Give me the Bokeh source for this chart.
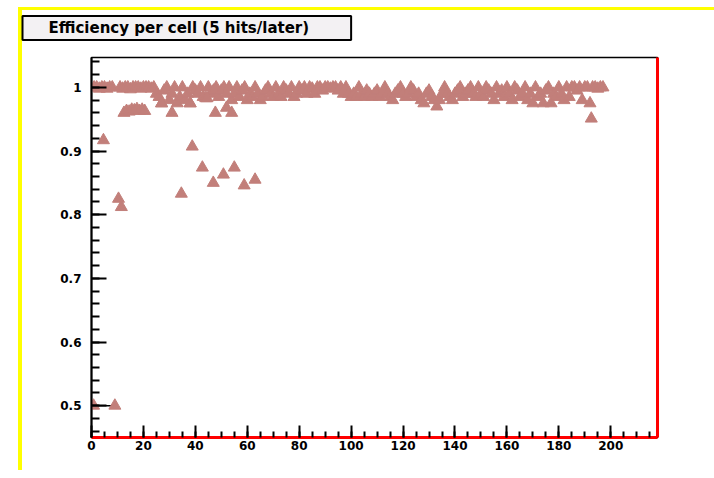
from bokeh.plotting import figure
from bokeh.models import Range1d, LinearAxis, FixedTicker
from bokeh.embed import file_html
from bokeh.resources import INLINE

title_text = "Efficiency per cell (5 hits/later)"

# main band: cell number and efficiency
cells_main = [1, 2, 3, 4, 5, 6, 7, 8] + list(range(11, 198))
eff_main = (
    [1.0, 1.0, 0.998, 1.0, 1.0, 0.998, 1.0, 1.0]
    + [1.0, 0.998, 1.0, 1.0, 0.997, 1.0, 1.0, 1.0, 0.998, 1.0]
    + [1.0, 1.0, 0.998, 1.0, 0.99, 0.985, 0.975, 0.995, 1.0, 0.98]
    + [0.99, 1.0, 0.975, 0.985, 1.0, 0.98, 0.99, 0.975, 1.0, 0.995]
    + [0.99, 1.0, 0.985, 0.983, 1.0, 0.99, 0.995, 1.0, 0.985, 0.995]
    + [1.0, 0.99, 1.0, 0.98, 0.99, 1.0, 0.985, 0.995, 1.0, 0.98]
    + [0.99, 0.985, 1.0, 0.99, 0.98, 0.985, 0.995, 1.0, 0.99, 0.985]
    + [1.0, 0.99, 0.985, 1.0, 0.995, 0.99, 1.0, 0.985, 0.99, 1.0]
    + [0.995, 1.0, 0.99, 1.0, 0.998, 0.99, 1.0, 1.0, 0.995, 1.0]
    + [1.0, 0.998, 1.0, 1.0, 0.995, 1.0, 0.99, 1.0, 0.99, 0.985]
    + [0.99, 0.985, 1.0, 0.99, 0.985, 0.995, 0.99, 0.985, 0.99, 0.995]
    + [0.985, 0.99, 1.0, 0.99, 0.985, 0.98, 0.99, 0.995, 1.0, 0.99]
    + [0.985, 0.99, 1.0, 0.995, 0.985, 0.99, 0.98, 0.975, 0.99, 0.995]
    + [0.985, 0.98, 0.97, 0.98, 0.99, 1.0, 0.99, 0.985, 0.98, 0.99]
    + [0.995, 1.0, 0.985, 0.99, 0.995, 1.0, 0.99, 0.985, 1.0, 0.99]
    + [0.985, 1.0, 0.995, 0.99, 0.98, 1.0, 0.99, 0.995, 0.985, 1.0]
    + [0.99, 0.98, 1.0, 0.995, 0.985, 0.99, 1.0, 0.98, 0.99, 0.975]
    + [1.0, 0.985, 0.99, 0.975, 0.995, 1.0, 0.975, 0.99, 0.985, 1.0]
    + [0.99, 0.98, 1.0, 0.985, 1.0, 1.0, 0.995, 1.0, 0.98, 1.0]
    + [1.0, 0.975, 1.0, 1.0, 0.998, 1.0, 1.0]
)

# second-tier and low-efficiency cells
cells_low = [0.8, 9.0, 4.6, 10.4, 11.5, 34.6, 38.8, 42.7, 46.9, 50.8, 55.0, 58.8, 63.0, 192.5,
             12.5, 13.5, 14.5, 15.5, 16.5, 17.5, 18.5, 19.5, 20.5, 31.0, 47.7, 52.0, 54.0,
             27.0, 38.0, 44.5]
eff_low = [0.5, 0.5, 0.917, 0.825, 0.812, 0.833, 0.907, 0.874, 0.850, 0.863, 0.874, 0.846, 0.855, 0.951,
           0.960, 0.963, 0.962, 0.965, 0.964, 0.966, 0.963, 0.965, 0.963, 0.960, 0.960, 0.968, 0.960,
           0.975, 0.975, 0.983]

x_ticks = [0, 20, 40, 60, 80, 100, 120, 140, 160, 180, 200]
x_tick_labels = ["0", "20", "40", "60", "80", "100", "120", "140", "160", "180", "200"]
y_ticks = [0.5, 0.6, 0.7, 0.8, 0.9, 1.0]
y_tick_labels = ["0.5", "0.6", "0.7", "0.8", "0.9", "1"]

marker_color = "#c27f7a"

canvas_css = ("linear-gradient(#ffff00, #ffff00) 18px 7px / 696px 3px no-repeat, "
              "linear-gradient(#ffff00, #ffff00) 18px 7px / 4px 463px no-repeat, #ffffff")

p = figure(width=714, height=478, output_backend="svg", toolbar_location=None,
           x_range=Range1d(0, 218), y_range=Range1d(0.45, 1.047),
           min_border_left=91, min_border_right=57, min_border_top=57, min_border_bottom=41,
           styles={"background": canvas_css},
           background_fill_color="white", border_fill_color=None)

p.title.text = title_text
p.title.align = "left"
p.title.vertical_align = "top"
p.title.offset = -69
p.title.standoff = 31
p.title.text_font = "DejaVu Sans"
p.title.text_font_style = "bold"
p.title.text_font_size = "15px"
p.title.text_color = "black"
p.title.background_fill_color = "#f3f1f3"
p.title.border_line_color = "black"
p.title.border_line_width = 2
p.title.padding = dict(left=26, right=42, top=3, bottom=3)

p.xgrid.visible = False
p.ygrid.visible = False
p.outline_line_color = "black"
p.outline_line_width = 1.5

x_minor = [5 * i for i in range(0, 44)]
y_minor = [round(0.46 + 0.02 * i, 2) for i in range(0, 30)]

p.xaxis.ticker = FixedTicker(ticks=x_ticks, minor_ticks=x_minor)
p.xaxis.major_label_overrides = {t: l for t, l in zip(x_ticks, x_tick_labels)}
p.yaxis.ticker = FixedTicker(ticks=y_ticks, minor_ticks=y_minor)
p.yaxis.major_label_overrides = {t: l for t, l in zip(y_ticks, y_tick_labels)}

for ax in (p.xaxis, p.yaxis):
    ax.major_tick_out = 0
    ax.minor_tick_out = 0
    ax.major_tick_line_color = "black"
    ax.minor_tick_line_color = "black"
    ax.major_tick_line_width = 2
    ax.minor_tick_line_width = 2
    ax.major_label_text_font = "DejaVu Sans"
    ax.major_label_text_font_style = "bold"
    ax.major_label_text_font_size = "12px"
    ax.major_label_text_color = "black"

p.xaxis.major_tick_in = 12
p.xaxis.minor_tick_in = 6
p.xaxis.axis_line_color = "red"
p.xaxis.axis_line_width = 3
p.xaxis.major_label_standoff = 3
p.yaxis.major_tick_in = 15
p.yaxis.minor_tick_in = 8
p.yaxis.axis_line_color = "black"
p.yaxis.axis_line_width = 2
p.yaxis.major_label_standoff = 10

right_axis = LinearAxis(axis_line_color="red", axis_line_width=3,
                        ticker=FixedTicker(ticks=[], minor_ticks=[]),
                        major_tick_line_color=None, minor_tick_line_color=None)
p.add_layout(right_axis, "right")

# horizontal error bar between the two 0.5 points
p.segment(x0=[cells_low[0]], y0=[eff_low[0]], x1=[cells_low[1]], y1=[eff_low[1]],
          line_color="black", line_width=1.5)

p.scatter(cells_main, eff_main, marker="triangle", size=12,
          fill_color=marker_color, line_color=marker_color)
p.scatter(cells_low, eff_low, marker="triangle", size=12,
          fill_color=marker_color, line_color=marker_color)

open("out.html", "w").write(file_html(p, INLINE))
